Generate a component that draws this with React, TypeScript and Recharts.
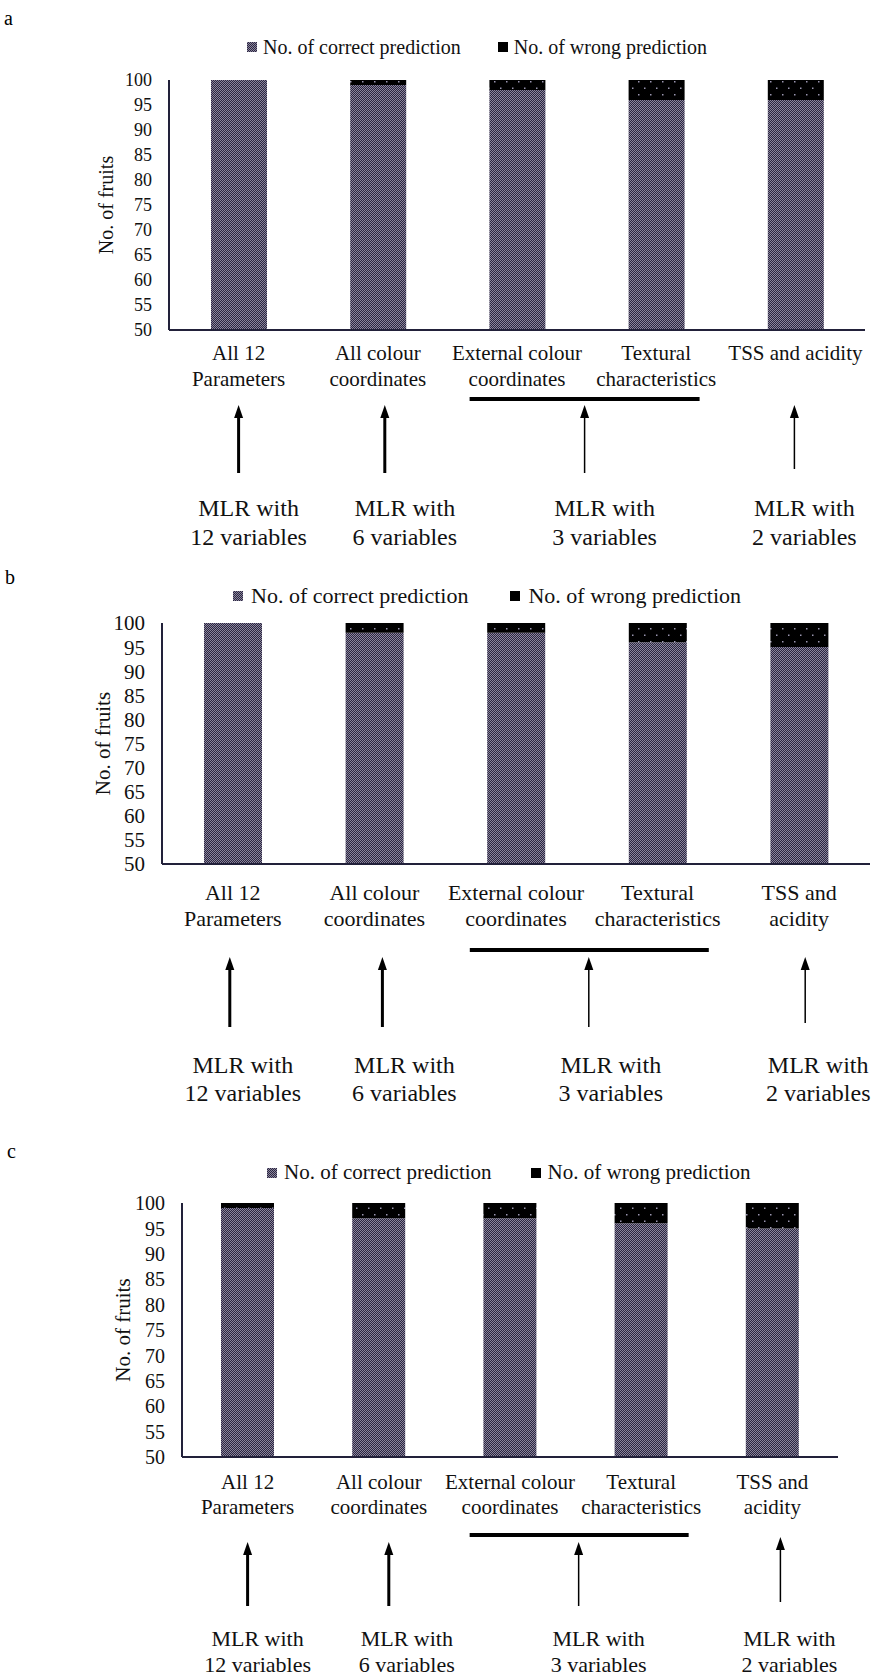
import React from 'react';
import { BarChart, Bar, XAxis, YAxis, Legend } from 'recharts';

const FONT = '"Liberation Serif", "Times New Roman", serif';

const categories = [
  'All 12 Parameters',
  'All colour coordinates',
  'External colour coordinates',
  'Textural characteristics',
  'TSS and acidity',
];
const labelLinesA = [
  ['All 12', 'Parameters'],
  ['All colour', 'coordinates'],
  ['External colour', 'coordinates'],
  ['Textural', 'characteristics'],
  ['TSS and acidity'],
];
const labelLinesBC = [
  ['All 12', 'Parameters'],
  ['All colour', 'coordinates'],
  ['External colour', 'coordinates'],
  ['Textural', 'characteristics'],
  ['TSS and', 'acidity'],
];
const seriesNames = ['No. of correct prediction', 'No. of wrong prediction'];

const correctA = [100, 99, 98, 96, 96];
const wrongA = [0, 1, 2, 4, 4];
const correctB = [100, 98, 98, 96, 95];
const wrongB = [0, 2, 2, 4, 5];
const correctC = [99, 97, 97, 96, 95];
const wrongC = [1, 3, 3, 4, 5];

const yTicks = [50, 55, 60, 65, 70, 75, 80, 85, 90, 95, 100];

// which categories each MLR model covers
const modelGroups = [[0], [1], [2, 3], [4]];
const modelLines = [
  ['MLR with', '12 variables'],
  ['MLR with', '6 variables'],
  ['MLR with', '3 variables'],
  ['MLR with', '2 variables'],
];

const panels = [
  {
    id: 'a', top: 0, height: 560, plotTop: 80, xAxisH: 230, yAxisW: 169, right: 6, barSize: 56, band: 139.2,
    tickFont: 18, titleFont: 20, legendFont: 20, catFont: 21, mlrFont: 24, titleX: 106,
    legendLeft: 247, legendMid: 48, legendGap: 37, iconGap: 6,
    catY: [23, 49], underY: 69, tipY: [75, 75, 75, 75], baseY: [143, 143, 143, 139], mlrY: [178, 207],
    arrowDx: [0, 7, -2, -1], mlrDx: [10, 27, 18, 9], under: [117, 113], letterX: 9, letterY: 19,
    correct: correctA, wrong: wrongA, lines: labelLinesA,
  },
  {
    id: 'b', top: 560, height: 560, plotTop: 63, xAxisH: 256, yAxisW: 162, right: 1, barSize: 58, band: 141.6,
    tickFont: 21, titleFont: 21, legendFont: 22, catFont: 22, mlrFont: 24, titleX: 103,
    legendLeft: 233, legendMid: 36, legendGap: 42, iconGap: 8,
    catY: [28, 54], underY: 86, tipY: [93, 93, 93, 93], baseY: [163, 163, 163, 159], mlrY: [201, 229],
    arrowDx: [-3, 8, 2, 6], mlrDx: [10, 30, 24, 19], under: [117, 122], letterX: 10, letterY: 18,
    correct: correctB, wrong: wrongB, lines: labelLinesBC,
  },
  {
    id: 'c', top: 1120, height: 558, plotTop: 83, xAxisH: 221, yAxisW: 182, right: 33, barSize: 53, band: 131.1,
    tickFont: 20, titleFont: 21, legendFont: 21, catFont: 21, mlrFont: 22, titleX: 123,
    legendLeft: 267, legendMid: 53, legendGap: 39, iconGap: 7,
    catY: [25, 50], underY: 78, tipY: [85, 85, 85, 80], baseY: [149, 149, 149, 145], mlrY: [181, 207],
    arrowDx: [0, 10, 3, 8], mlrDx: [10, 28, 23, 17], under: [106, 113], letterX: 12, letterY: 32,
    correct: correctC, wrong: wrongC, lines: labelLinesBC,
  },
];

type Panel = (typeof panels)[number];

const Arrow = ({ x, tip, base, w }: { x: number; tip: number; base: number; w: number }) => (
  <g>
    <line x1={x} x2={x} y1={base} y2={tip + 10} stroke="#000" strokeWidth={w} />
    <polygon points={`${x},${tip} ${x - 4.5},${tip + 13} ${x + 4.5},${tip + 13}`} fill="#000" />
  </g>
);

const makeTick = (p: Panel) => (props: any) => {
  const { x, y, payload } = props;
  const index = props.index ?? payload.index;
  const lines = p.lines[index] || [];
  const g = modelGroups.findIndex((grp) => grp[grp.length - 1] === index);
  let annotation = null;
  if (g >= 0) {
    const n = modelGroups[g].length;
    const mid = x - ((n - 1) * p.band) / 2;
    const ax = mid + p.arrowDx[g];
    const tx = mid + p.mlrDx[g];
    annotation = (
      <g>
        {n > 1 && (
          <line x1={mid - p.under[0]} x2={mid + p.under[1]} y1={y + p.underY} y2={y + p.underY} stroke="#000" strokeWidth={4} />
        )}
        <Arrow x={ax} tip={y + p.tipY[g]} base={y + p.baseY[g]} w={g < 2 ? 3 : 1.5} />
        {modelLines[g].map((t, k) => (
          <text key={k} x={tx} y={y + p.mlrY[k]} dy="0.35em" textAnchor="middle" fontFamily={FONT} fontSize={p.mlrFont} fill="#111">
            {t}
          </text>
        ))}
      </g>
    );
  }
  return (
    <g>
      {lines.map((t, k) => (
        <text key={k} x={x} y={y + p.catY[k]} dy="0.35em" textAnchor="middle" fontFamily={FONT} fontSize={p.catFont} fill="#111">
          {t}
        </text>
      ))}
      {annotation}
    </g>
  );
};

const makeLegend = (p: Panel) => (props: any) => {
  const { payload = [] } = props;
  return (
    <div style={{ display: 'flex', alignItems: 'center', fontFamily: FONT, fontSize: p.legendFont, color: '#111', whiteSpace: 'nowrap', lineHeight: 1 }}>
      {payload.map((entry: any, i: number) => (
        <div key={i} style={{ display: 'flex', alignItems: 'center', marginRight: i === 0 ? p.legendGap : 0 }}>
          <svg width={10} height={10} style={{ marginRight: p.iconGap }}>
            <rect width={10} height={10} fill={i === 0 ? `url(#corr-${p.id})` : '#000'} />
          </svg>
          <span>{entry.value}</span>
        </div>
      ))}
    </div>
  );
};

const makeTitle = (p: Panel) => (props: any) => {
  const vb = props.viewBox || {};
  const cy = vb.y + vb.height / 2;
  return (
    <text transform={`translate(${p.titleX},${cy}) rotate(-90)`} dy="0.35em" textAnchor="middle" fontFamily={FONT} fontSize={p.titleFont} fill="#111">
      No. of fruits
    </text>
  );
};

const PanelChart = ({ p }: { p: Panel }) => {
  const rows = categories.map((name, i) => ({ name, correct: p.correct[i], wrong: p.wrong[i] }));
  return (
    <div style={{ position: 'absolute', left: 0, top: p.top }}>
      <div style={{ position: 'absolute', left: p.letterX - 5, top: p.letterY - 11, fontFamily: FONT, fontSize: 20, lineHeight: 1 }}>{p.id}</div>
      <BarChart
        width={871}
        height={p.height}
        data={rows}
        margin={{ top: p.plotTop, right: p.right, bottom: 0, left: 0 }}
        barSize={p.barSize}
      >
        <defs>
          <pattern id={`corr-${p.id}`} width={2} height={2} patternUnits="userSpaceOnUse">
            <rect width={2} height={2} fill="#2b2640" />
            <rect x={0} y={0} width={1} height={1} fill="#8a859c" />
            <rect x={1} y={1} width={1} height={1} fill="#8a859c" />
          </pattern>
          <pattern id={`wrong-${p.id}`} width={12} height={13} patternUnits="userSpaceOnUse">
            <rect width={12} height={13} fill="#000" />
            <rect x={2} y={3} width={1.5} height={1.5} fill="#9a96b0" />
            <rect x={8} y={9.5} width={1.5} height={1.5} fill="#9a96b0" />
          </pattern>
        </defs>
        <XAxis
          dataKey="name"
          height={p.xAxisH}
          interval={0}
          tickLine={false}
          tickSize={0}
          tickMargin={0}
          axisLine={{ stroke: '#22213a', strokeWidth: 2 }}
          tick={makeTick(p)}
        />
        <YAxis
          domain={[50, 100]}
          ticks={yTicks}
          interval={0}
          allowDataOverflow
          width={p.yAxisW}
          tickLine={false}
          tickSize={0}
          tickMargin={17}
          axisLine={{ stroke: '#22213a', strokeWidth: 2 }}
          tick={{ fontFamily: FONT, fontSize: p.tickFont, fill: '#111' }}
          label={makeTitle(p)}
        />
        <Legend
          layout="horizontal"
          verticalAlign="middle"
          content={makeLegend(p)}
          wrapperStyle={{ left: p.legendLeft, top: p.legendMid - 11, width: 'auto', height: 22 }}
        />
        <Bar dataKey="correct" name={seriesNames[0]} stackId="s" fill={`url(#corr-${p.id})`} isAnimationActive={false} />
        <Bar dataKey="wrong" name={seriesNames[1]} stackId="s" fill={`url(#wrong-${p.id})`} isAnimationActive={false} />
      </BarChart>
    </div>
  );
};

export default function App() {
  return (
    <div style={{ position: 'absolute', left: 0, top: 0, width: 871, height: 1678, background: '#fff', overflow: 'hidden' }}>
      {panels.map((p) => (
        <PanelChart key={p.id} p={p} />
      ))}
    </div>
  );
}
